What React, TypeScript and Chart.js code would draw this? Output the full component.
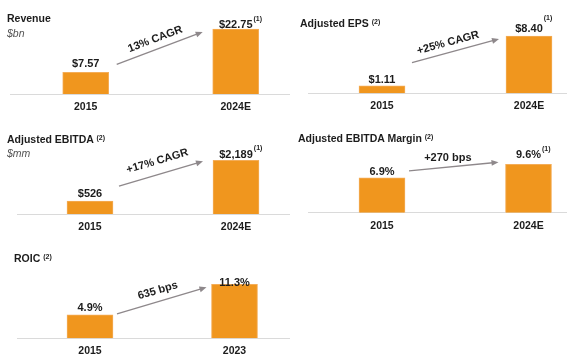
import React, { useEffect, useRef } from 'react';
import { Chart, registerables } from 'chart.js';
Chart.register(...registerables);

const FONT = "'Liberation Sans', Arial, Helvetica, sans-serif";

// ---------- data ----------
const revenueYears = ['2015', '2024E'];
const revenueValues = [7.57, 22.75];
const revenueLabels = ['$7.57', '$22.75'];
const revenueNotes = ['', '(1)'];
const revenueChange = '13% CAGR';

const epsYears = ['2015', '2024E'];
const epsValues = [1.11, 8.4];
const epsLabels = ['$1.11', '$8.40'];
const epsNotes = ['', '(1)'];
const epsChange = '+25% CAGR';

const ebitdaYears = ['2015', '2024E'];
const ebitdaValues = [526, 2189];
const ebitdaLabels = ['$526', '$2,189'];
const ebitdaNotes = ['', '(1)'];
const ebitdaChange = '+17% CAGR';

const marginYears = ['2015', '2024E'];
const marginValues = [6.9, 9.6];
const marginLabels = ['6.9%', '9.6%'];
const marginNotes = ['', '(1)'];
const marginChange = '+270 bps';

const roicYears = ['2015', '2023'];
const roicValues = [4.9, 11.3];
const roicLabels = ['4.9%', '11.3%'];
const roicNotes = ['', ''];
const roicChange = '635 bps';

// ---------- styling ----------
const BAR = '#F0961E';
const BAR_EDGE = '#F4AD58';
const ARROW = '#8E888B';
const TEXT = '#1c1c1c';
const AXIS_H = 26.6;
const BELOW = 30;

type ArrowCfg = { sdx: number; sdy: number; edx: number; edy: number; lift: number; along: number; rotate: boolean };
type PanelProps = {
  years: string[]; values: number[]; labels: string[]; notes: string[]; change: string;
  box: { x: number; y: number; w: number; h: number };
  cx: number; cw: number;
  padL: number; padR: number; areaTop: number; baseline: number;
  yMax: number; labelGaps: number[]; supRaise: number; arrow: ArrowCfg;
};

function Panel(p: PanelProps) {
  const ref = useRef<HTMLCanvasElement | null>(null);
  const ch = Math.round(p.baseline - p.box.y + BELOW);
  useEffect(() => {
    if (!ref.current) return;
    const padT = p.areaTop - p.box.y;
    const padB = ch - AXIS_H - (p.baseline - p.box.y);
    const annotate = {
      id: 'annotate',
      afterDatasetsDraw(chart: any) {
        const ctx = chart.ctx as CanvasRenderingContext2D;
        const bars = chart.getDatasetMeta(0).data as any[];
        ctx.save();
        ctx.fillStyle = TEXT;
        ctx.textBaseline = 'alphabetic';
        bars.forEach((b, i) => {
          ctx.font = `bold 11px ${FONT}`;
          ctx.textAlign = 'center';
          const ty = b.y - p.labelGaps[i];
          ctx.fillText(p.labels[i], b.x, ty);
          if (p.notes[i]) {
            const w = ctx.measureText(p.labels[i]).width;
            ctx.font = `bold 7px ${FONT}`;
            ctx.textAlign = 'left';
            ctx.fillText(p.notes[i], b.x + w / 2 + 1, ty - p.supRaise);
          }
        });
        const a = p.arrow;
        const b0 = bars[0];
        const b1 = bars[1];
        const x1 = b0.x + b0.width / 2 + a.sdx;
        const y1 = b0.y + a.sdy;
        const x2 = b1.x - b1.width / 2 + a.edx;
        const y2 = b1.y + a.edy;
        const ang = Math.atan2(y2 - y1, x2 - x1);
        const hl = 7;
        const hw = 3;
        ctx.strokeStyle = ARROW;
        ctx.fillStyle = ARROW;
        ctx.lineWidth = 1.3;
        ctx.beginPath();
        ctx.moveTo(x1, y1);
        ctx.lineTo(x2 - Math.cos(ang) * hl * 0.8, y2 - Math.sin(ang) * hl * 0.8);
        ctx.stroke();
        ctx.beginPath();
        ctx.moveTo(x2, y2);
        ctx.lineTo(x2 - Math.cos(ang) * hl - Math.sin(ang) * hw, y2 - Math.sin(ang) * hl + Math.cos(ang) * hw);
        ctx.lineTo(x2 - Math.cos(ang) * hl + Math.sin(ang) * hw, y2 - Math.sin(ang) * hl - Math.cos(ang) * hw);
        ctx.closePath();
        ctx.fill();
        // change label
        const mx = (x1 + x2) / 2;
        const my = (y1 + y2) / 2;
        const dx = Math.cos(ang);
        const dy = Math.sin(ang);
        const nx = dy;
        const ny = -dx;
        const lx = mx + nx * a.lift + dx * a.along;
        const ly = my + ny * a.lift + dy * a.along;
        ctx.fillStyle = TEXT;
        ctx.font = `bold 11px ${FONT}`;
        ctx.textAlign = 'center';
        ctx.textBaseline = 'middle';
        ctx.translate(lx, ly);
        if (a.rotate) ctx.rotate(ang);
        ctx.fillText(p.change, 0, 0);
        ctx.restore();
      },
    };
    const chart = new Chart(ref.current, {
      type: 'bar',
      data: {
        labels: p.years,
        datasets: [
          {
            data: p.values,
            backgroundColor: BAR,
            borderColor: BAR_EDGE,
            borderWidth: 1,
            barThickness: 46,
          },
        ],
      },
      options: {
        responsive: false,
        animation: false,
        devicePixelRatio: 1,
        layout: { padding: { left: p.padL, right: p.padR, top: padT, bottom: padB } },
        plugins: { legend: { display: false }, tooltip: { enabled: false }, title: { display: false } },
        scales: {
          x: {
            grid: { display: false, drawTicks: false },
            border: { display: true, color: '#dadada', width: 1 },
            ticks: { color: TEXT, font: { family: FONT, size: 10.5, weight: 'bold' }, padding: 7 },
          },
          y: { display: false, min: 0, max: p.yMax },
        },
      },
      plugins: [annotate],
    } as any);
    return () => chart.destroy();
  }, []);
  return (
    <div style={{ position: 'absolute', left: p.box.x, top: p.box.y, width: p.box.w, height: p.box.h, overflow: 'hidden' }}>
      <canvas
        ref={ref}
        width={p.cw}
        height={ch}
        style={{ position: 'absolute', left: p.cx - p.box.x, top: 0, width: p.cw, height: ch }}
      />
    </div>
  );
}

const titleStyle: React.CSSProperties = {
  position: 'absolute',
  fontFamily: FONT,
  fontWeight: 'bold',
  fontSize: 10.5,
  lineHeight: '12px',
  color: TEXT,
  whiteSpace: 'nowrap',
};
const unitStyle: React.CSSProperties = {
  position: 'absolute',
  fontFamily: FONT,
  fontStyle: 'italic',
  fontSize: 10.5,
  lineHeight: '12px',
  color: '#555',
  whiteSpace: 'nowrap',
};
const supStyle: React.CSSProperties = { fontSize: 7, verticalAlign: 3, lineHeight: 0 };

export default function App() {
  return (
    <div style={{ position: 'fixed', left: 0, top: 0, width: 567, height: 363, overflow: 'hidden', background: '#fff' }}>
      <Panel
        years={revenueYears} values={revenueValues} labels={revenueLabels} notes={revenueNotes} change={revenueChange}
        box={{ x: 0, y: 0, w: 290, h: 120 }} cx={0} cw={320} padL={10.7} padR={9.3}
        areaTop={24} baseline={94} yMax={24.5} labelGaps={[5, 1]} supRaise={7}
        arrow={{ sdx: 8, sdy: -8, edx: -10, edy: 3, lift: 10, along: -1, rotate: true }}
      />
      <Panel
        years={epsYears} values={epsValues} labels={epsLabels} notes={epsNotes} change={epsChange}
        box={{ x: 290, y: 0, w: 277, h: 120 }} cx={290} cw={320} padL={18.5} padR={7.5}
        areaTop={24} baseline={93.3} yMax={10.16} labelGaps={[2.7, 4.3]} supRaise={12}
        arrow={{ sdx: 7, sdy: -23, edx: -7, edy: 3, lift: 9.7, along: -5, rotate: true }}
      />
      <Panel
        years={ebitdaYears} values={ebitdaValues} labels={ebitdaLabels} notes={ebitdaNotes} change={ebitdaChange}
        box={{ x: 0, y: 120, w: 290, h: 120 }} cx={0} cw={320} padL={17} padR={11}
        areaTop={144} baseline={214} yMax={2853} labelGaps={[4.3, 2]} supRaise={8}
        arrow={{ sdx: 6, sdy: -15, edx: -10, edy: 1, lift: 13, along: 0, rotate: true }}
      />
      <Panel
        years={marginYears} values={marginValues} labels={marginLabels} notes={marginNotes} change={marginChange}
        box={{ x: 290, y: 120, w: 277, h: 120 }} cx={290} cw={320} padL={18.75} padR={8.25}
        areaTop={144} baseline={212.7} yMax={13.6} labelGaps={[2.6, 6.6]} supRaise={7}
        arrow={{ sdx: 4, sdy: -7, edx: -7, edy: -2, lift: 9.5, along: -5, rotate: false }}
      />
      <Panel
        years={roicYears} values={roicValues} labels={roicLabels} notes={roicNotes} change={roicChange}
        box={{ x: 0, y: 240, w: 290, h: 123 }} cx={0} cw={320} padL={17.75} padR={13.25}
        areaTop={264} baseline={338.3} yMax={15.55} labelGaps={[4.3, -1.4]} supRaise={7}
        arrow={{ sdx: 4, sdy: -1, edx: -5, edy: 3, lift: 10.7, along: -1, rotate: true }}
      />

      <div style={{ ...titleStyle, left: 7, top: 12 }}>Revenue</div>
      <div style={{ ...unitStyle, left: 7, top: 27 }}>$bn</div>
      <div style={{ ...titleStyle, left: 300, top: 17 }}>
        Adjusted EPS <span style={supStyle}>(2)</span>
      </div>
      <div style={{ ...titleStyle, left: 7, top: 133 }}>
        Adjusted EBITDA <span style={supStyle}>(2)</span>
      </div>
      <div style={{ ...unitStyle, left: 7, top: 147 }}>$mm</div>
      <div style={{ ...titleStyle, left: 298, top: 132 }}>
        Adjusted EBITDA Margin <span style={supStyle}>(2)</span>
      </div>
      <div style={{ ...titleStyle, left: 14, top: 252 }}>
        ROIC <span style={supStyle}>(2)</span>
      </div>
    </div>
  );
}
